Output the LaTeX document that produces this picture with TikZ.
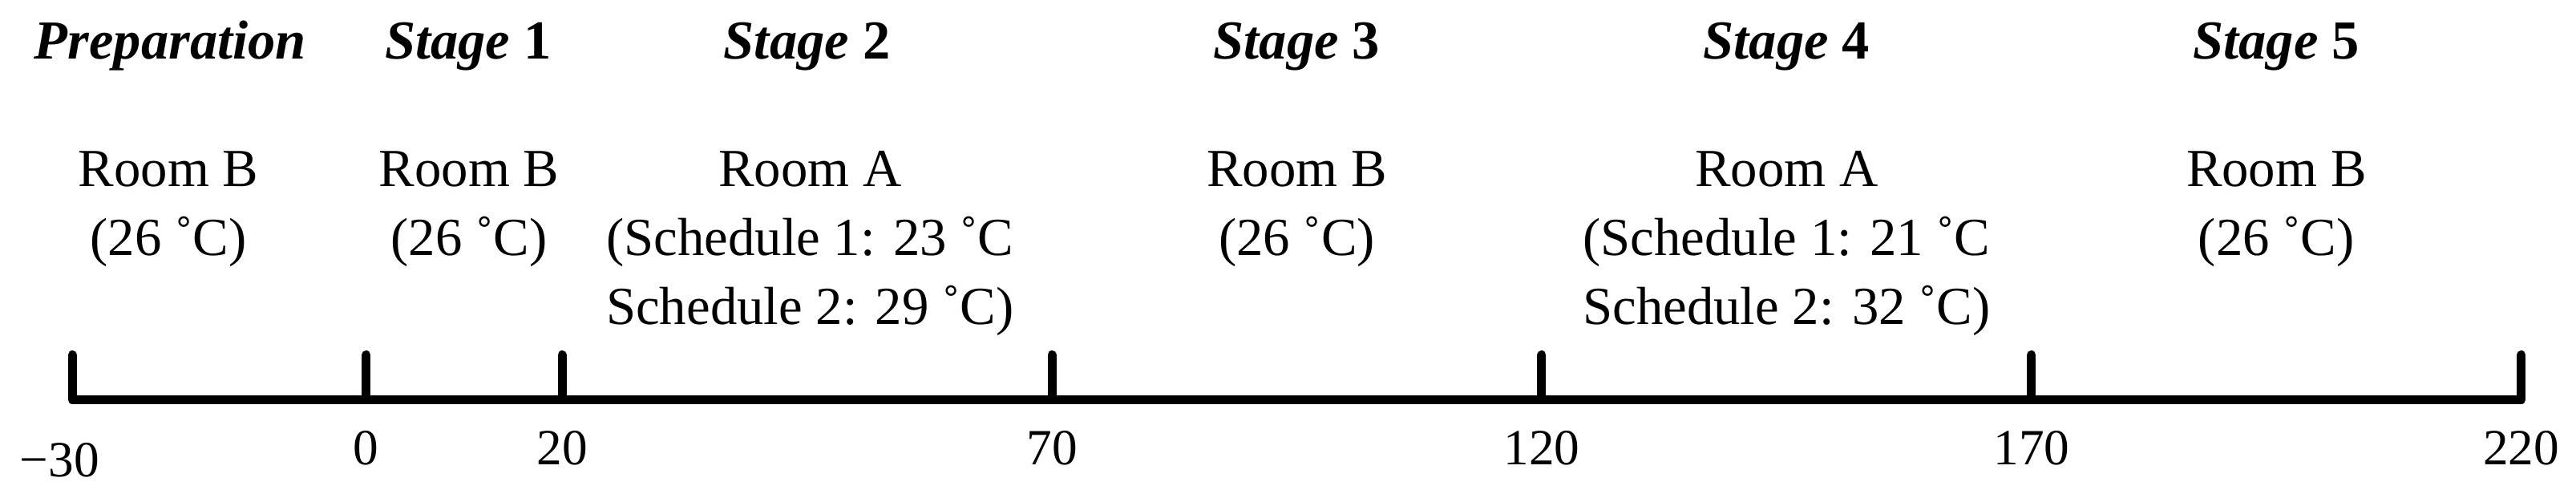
\documentclass[tikz,border=0pt]{standalone}
\usepackage{fontspec}
\setmainfont{Liberation Serif}
\usetikzlibrary{positioning}

\begin{document}
\begin{tikzpicture}[x=0.12218cm,y=1cm,align=center]
\tikzstyle{stage}=[font=\fontsize{19.5}{24}\selectfont\bfseries\itshape,anchor=base,inner sep=0pt]
\tikzstyle{room}=[font=\fontsize{19}{24.5}\selectfont,anchor=base,inner sep=0pt]
\tikzstyle{num}=[font=\fontsize{18}{22}\selectfont,anchor=base,inner sep=0pt]
\tikzstyle{axis}=[line width=0.11cm,line cap=round,line join=round]

\useasboundingbox (-4.568cm,0) rectangle (27.562cm,6.21cm);

% stage titles
\node[stage] (prep) at (-20,5.475) {Preparation};
\node[stage] (st1) at (10.4,5.475) {Stage \textup{1}};
\node[stage] (st2) at (45,5.475) {Stage \textup{2}};
\node[stage] (st3) at (95,5.475) {Stage \textup{3}};
\node[stage] (st4) at (145,5.475) {Stage \textup{4}};
\node[stage] (st5) at (195,5.475) {Stage \textup{5}};

% rooms and set points (base = last line)
\node[room] (rm0) at (-20.2,3.02) {Room B\\(26 ˚C)};
\node[room] (rm1) at (10.5,3.02) {Room B\\(26 ˚C)};
\node[room] (rm2) at (45.3,2.16) {Room A\\(Schedule 1: 23 ˚C\\Schedule 2: 29 ˚C)};
\node[room] (rm3) at (95,3.02) {Room B\\(26 ˚C)};
\node[room] (rm4) at (145,2.16) {Room A\\(Schedule 1: 21 ˚C\\Schedule 2: 32 ˚C)};
\node[room] (rm5) at (195,3.02) {Room B\\(26 ˚C)};

% time axis
\coordinate (m30) at (-30,1.225);
\coordinate (m30top) at (-30,1.785);
\coordinate (p220) at (220,1.225);
\coordinate (p220top) at (220,1.785);
\draw[axis] (m30top) -- (m30) -- (p220) -- (p220top);
\foreach \t in {0,20,70,120,170} {
  \coordinate (p\t) at (\t,1.225);
  \coordinate (p\t top) at (\t,1.785);
  \draw[axis] (p\t) -- (p\t top);
}

% minutes
\node[num] (lm30) at (-31.3,0.26) {−30};
\foreach \t in {0,20,70,120,170,220}
  \node[num] (l\t) at (\t,0.41) {\t};
\end{tikzpicture}
\end{document}
